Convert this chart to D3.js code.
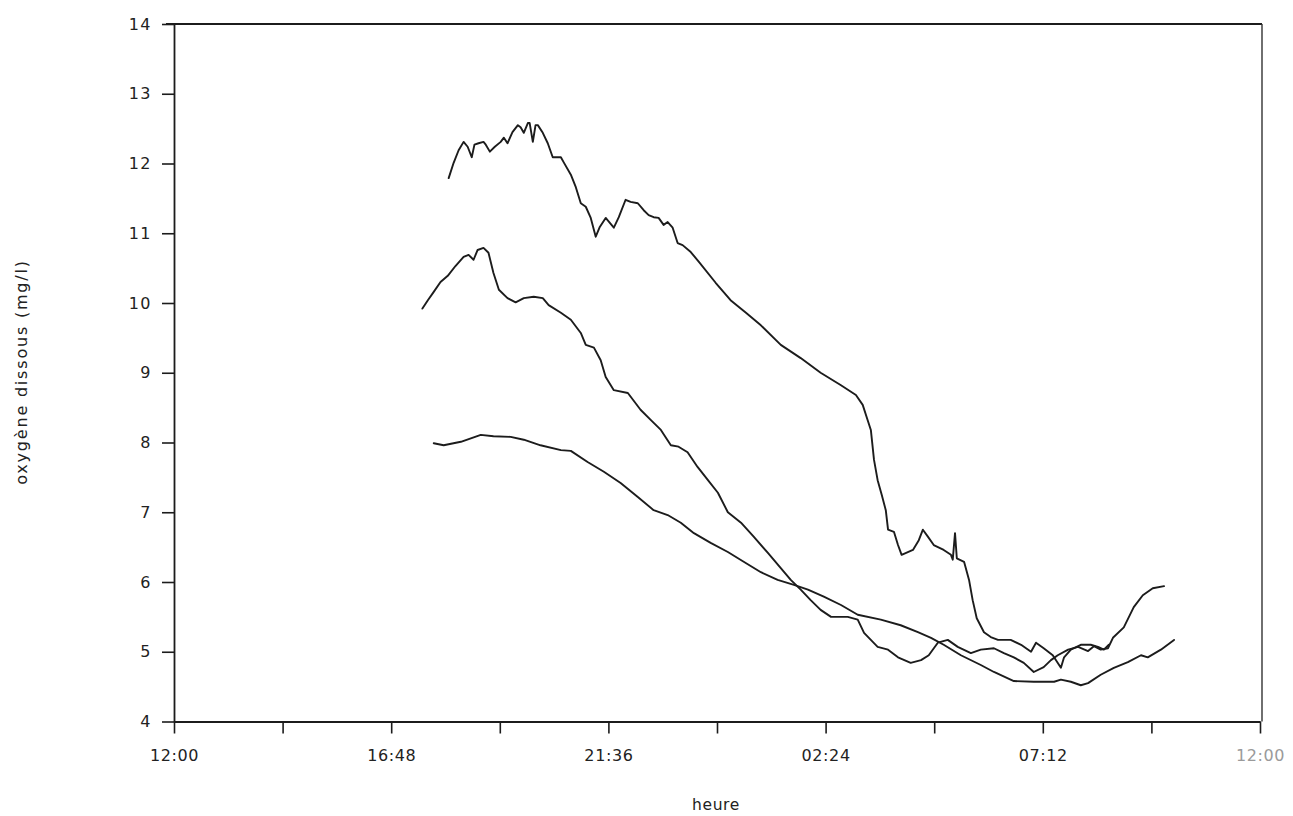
<!DOCTYPE html>
<html>
<head>
<meta charset="utf-8">
<script src="https://cdn.jsdelivr.net/npm/d3@7"></script>
<style>
  html, body { margin: 0; padding: 0; background: #fff; }
  svg { display: block; }
  .tick text { font-family: "DejaVu Sans", sans-serif; font-size: 16px; fill: #222; }
</style>
</head>
<body>
<svg id="chart" width="1293" height="816"></svg>
<script>
// ---- Data (hours elapsed since 12:00, dissolved oxygen mg/l) ----
const hoursA = [6.07,6.18,6.29,6.40,6.49,6.58,6.64,6.73,6.84,6.89,6.98,7.09,7.22,7.29,7.37,7.48,7.60,7.66,7.73,7.82,7.86,7.93,7.99,8.04,8.15,8.26,8.37,8.55,8.61,8.77,8.88,8.99,9.10,9.21,9.32,9.41,9.54,9.72,9.83,9.98,10.09,10.25,10.38,10.49,10.60,10.71,10.82,10.91,11.02,11.13,11.24,11.42,11.60,11.97,12.30,12.64,12.97,13.41,13.85,14.29,14.74,15.07,15.22,15.33,15.40,15.47,15.55,15.64,15.73,15.78,15.91,16.00,16.08,16.33,16.46,16.55,16.66,16.79,17.01,17.17,17.21,17.26,17.30,17.46,17.57,17.65,17.74,17.90,18.05,18.21,18.49,18.72,18.94,19.05,19.22,19.42,19.60,19.67,19.82,20.04,20.26,20.42,20.55,20.66];
const valuesA = [11.79,12.01,12.19,12.31,12.24,12.09,12.27,12.29,12.31,12.27,12.17,12.24,12.31,12.37,12.29,12.45,12.55,12.52,12.44,12.58,12.58,12.31,12.55,12.55,12.44,12.29,12.09,12.09,12.02,11.84,11.66,11.43,11.38,11.22,10.95,11.09,11.22,11.08,11.23,11.48,11.45,11.43,11.33,11.26,11.23,11.22,11.12,11.16,11.08,10.86,10.83,10.73,10.59,10.29,10.04,9.86,9.68,9.40,9.21,9.00,8.82,8.68,8.54,8.32,8.18,7.75,7.46,7.25,7.03,6.75,6.72,6.53,6.39,6.46,6.60,6.75,6.65,6.53,6.46,6.39,6.32,6.70,6.34,6.29,6.03,5.74,5.48,5.28,5.21,5.17,5.17,5.10,5.00,5.13,5.05,4.95,4.77,4.92,5.03,5.10,5.10,5.07,5.03,5.10];

const hoursB = [5.49,5.61,5.74,5.89,6.05,6.22,6.40,6.51,6.62,6.71,6.84,6.95,7.06,7.18,7.37,7.55,7.73,7.95,8.15,8.28,8.55,8.77,8.99,9.10,9.28,9.43,9.54,9.72,10.03,10.31,10.54,10.76,10.98,11.15,11.35,11.57,11.80,12.02,12.24,12.53,12.81,13.12,13.41,13.63,13.85,14.07,14.29,14.52,14.89,15.11,15.25,15.55,15.78,16.00,16.28,16.51,16.68,16.88,17.10,17.32,17.61,17.83,18.12,18.34,18.56,18.78,19.00,19.22,19.38,19.53,19.76,19.98,20.20,20.33,20.48,20.64,20.75,20.99,21.21,21.41,21.63,21.88];
const valuesB = [9.92,10.04,10.16,10.30,10.39,10.53,10.66,10.69,10.62,10.76,10.79,10.72,10.43,10.19,10.07,10.01,10.07,10.09,10.07,9.97,9.86,9.76,9.57,9.40,9.36,9.18,8.94,8.75,8.71,8.47,8.32,8.18,7.96,7.94,7.86,7.65,7.46,7.28,7.00,6.85,6.65,6.42,6.20,6.03,5.89,5.74,5.60,5.50,5.50,5.46,5.27,5.07,5.03,4.92,4.84,4.88,4.95,5.13,5.17,5.07,4.98,5.03,5.05,4.98,4.92,4.84,4.71,4.78,4.88,4.95,5.03,5.07,5.01,5.08,5.03,5.05,5.20,5.35,5.64,5.81,5.91,5.94];

const hoursC = [5.74,5.96,6.34,6.78,7.06,7.44,7.73,8.10,8.55,8.77,9.14,9.50,9.87,10.25,10.60,10.91,11.20,11.49,11.86,12.24,12.59,12.97,13.34,13.70,14.01,14.36,14.74,15.11,15.62,16.06,16.44,16.73,17.01,17.39,17.83,18.12,18.56,19.00,19.45,19.60,19.82,20.04,20.20,20.48,20.77,21.08,21.37,21.52,21.81,22.10];
const valuesC = [7.99,7.96,8.01,8.11,8.09,8.08,8.04,7.96,7.89,7.88,7.72,7.58,7.42,7.22,7.03,6.96,6.85,6.70,6.56,6.43,6.29,6.14,6.03,5.96,5.89,5.79,5.67,5.53,5.46,5.38,5.28,5.20,5.10,4.95,4.81,4.71,4.58,4.57,4.57,4.60,4.57,4.52,4.55,4.67,4.77,4.85,4.95,4.92,5.03,5.17];

const xTicks = [0, 2.4, 4.8, 7.2, 9.6, 12, 14.4, 16.8, 19.2, 21.6, 24];
const xTickLabels = ["12:00", "", "16:48", "", "21:36", "", "02:24", "", "07:12", "", "12:00"];
const yTicks = [4, 5, 6, 7, 8, 9, 10, 11, 12, 13, 14];
const xTitle = "heure";
const yTitle = "oxygène dissous (mg/l)";

// ---- Chart ----
const svg = d3.select("#chart");
const plotLeft = 174, plotRight = 1260, plotTop = 24, plotBottom = 721.5;
const x = d3.scaleLinear().domain([0, 24]).range([plotLeft, plotRight]);
const y = d3.scaleLinear().domain([4, 14]).range([plotBottom, plotTop]);
const ink = "#1c1c1c";

// frame (top and right)
svg.append("line").attr("x1", plotLeft - 8).attr("x2", plotRight + 2).attr("y1", plotTop).attr("y2", plotTop)
  .attr("stroke", ink).attr("stroke-width", 1.8);
svg.append("line").attr("x1", plotRight + 2).attr("x2", plotRight + 2).attr("y1", plotTop).attr("y2", plotBottom)
  .attr("stroke", "#333").attr("stroke-width", 1.4);

// x axis
const gx = svg.append("g").attr("transform", `translate(0,${plotBottom})`)
  .call(d3.axisBottom(x).tickValues(xTicks).tickSize(12).tickSizeOuter(0).tickPadding(16)
    .tickFormat((d, i) => xTickLabels[i]));
gx.select(".domain").attr("stroke", ink).attr("stroke-width", 1.8);
gx.selectAll(".tick line").attr("stroke", ink).attr("stroke-width", 1.6);
gx.selectAll(".tick text").attr("letter-spacing", "0.6px");
gx.selectAll(".tick").filter((d, i) => i === xTicks.length - 1).select("text").style("fill", "#9a9a9a");

// y axis
const gy = svg.append("g").attr("transform", `translate(${plotLeft},0)`)
  .call(d3.axisLeft(y).tickValues(yTicks).tickSize(12).tickSizeOuter(0).tickPadding(10)
    .tickFormat(d3.format("d")));
gy.select(".domain").attr("stroke", ink).attr("stroke-width", 1.8);
gy.selectAll(".tick line").attr("stroke", ink).attr("stroke-width", 1.6);
gy.selectAll(".tick text").attr("letter-spacing", "1.5px");

// titles
svg.append("text").attr("x", 716).attr("y", 810).attr("text-anchor", "middle")
  .style("font-family", "DejaVu Sans, sans-serif").style("font-size", "15.5px").style("fill", "#222")
  .attr("letter-spacing", "0.6px").text(xTitle);
svg.append("text").attr("transform", "translate(27,372) rotate(-90)").attr("text-anchor", "middle")
  .style("font-family", "DejaVu Sans, sans-serif").style("font-size", "16px").style("fill", "#222")
  .attr("letter-spacing", "1.8px").text(yTitle);

// series
const line = d3.line().x(d => x(d[0])).y(d => y(d[1]));
const series = [
  d3.zip(hoursA, valuesA),
  d3.zip(hoursB, valuesB),
  d3.zip(hoursC, valuesC)
];
svg.append("g").selectAll("path").data(series).join("path")
  .attr("d", line).attr("fill", "none").attr("stroke", ink)
  .attr("stroke-width", 1.9).attr("stroke-linejoin", "round").attr("stroke-linecap", "round");
</script>
</body>
</html>
